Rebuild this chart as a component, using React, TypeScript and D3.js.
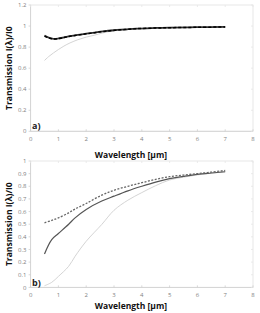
import React from "react";
import * as d3 from "d3";

// panel a) — wavelength in µm, transmission I(λ)/I0
const waveA = [0.5, 0.65, 0.82, 1.0, 1.2, 1.42, 1.7, 2.0, 2.3, 2.6, 3.0, 3.4, 3.8, 4.5, 5.0, 6.0, 7.0];
const solidA = [0.91, 0.89, 0.879, 0.882, 0.892, 0.904, 0.916, 0.927, 0.938, 0.949, 0.96, 0.968, 0.976, 0.982, 0.985, 0.989, 0.992];
const dashedA = [0.905, 0.887, 0.878, 0.881, 0.891, 0.903, 0.915, 0.926, 0.937, 0.948, 0.959, 0.967, 0.975, 0.981, 0.984, 0.988, 0.991];
const lightA = [0.673, 0.71, 0.744, 0.777, 0.81, 0.84, 0.87, 0.895, 0.913, 0.935, 0.955, 0.965, 0.974, 0.98, 0.983, 0.988, 0.99];

// panel b)
const waveB = [0.5, 0.76, 1.0, 1.37, 1.6, 2.0, 2.56, 3.0, 3.5, 4.0, 4.5, 5.0, 5.5, 6.0, 6.5, 7.0];
const dottedB = [0.511, 0.53, 0.55, 0.59, 0.62, 0.664, 0.73, 0.768, 0.8, 0.828, 0.855, 0.876, 0.889, 0.9, 0.912, 0.925];
const solidB = [0.265, 0.378, 0.426, 0.5, 0.55, 0.617, 0.683, 0.722, 0.764, 0.8, 0.833, 0.86, 0.878, 0.894, 0.905, 0.915];
const lightB = [0.013, 0.04, 0.087, 0.167, 0.246, 0.365, 0.498, 0.61, 0.69, 0.75, 0.805, 0.85, 0.872, 0.89, 0.903, 0.915];

const ticksA = [0, 0.2, 0.4, 0.6, 0.8, 1, 1.2];
const ticksB = [0, 0.1, 0.2, 0.3, 0.4, 0.5, 0.6, 0.7, 0.8, 0.9, 1];
const xTicks = [0, 1, 2, 3, 4, 5, 6, 7, 8];

const font = "'Open Sans', 'Liberation Sans', sans-serif";

type Series = { ys: number[]; color: string; width: number; dash?: string };

function Panel({ top, bottom, ymax, yTicks, xs, series, tag, titleGap }: {
  top: number; bottom: number; ymax: number; yTicks: number[]; xs: number[]; series: Series[]; tag: string; titleGap: number;
}) {
  const x = d3.scaleLinear().domain([0, 8]).range([30.6, 253]);
  const y = d3.scaleLinear().domain([0, ymax]).range([bottom, top]);
  const line = d3.line<number>().x((_, i) => x(xs[i])).y((d) => y(d)).curve(d3.curveCatmullRom);
  const mid = (top + bottom) / 2;
  return (
    <g>
      <rect x={x(0)} y={top} width={x(8) - x(0)} height={bottom - top} fill="none" stroke="#e0e0e0" strokeWidth={0.8} />
      <line x1={x(0)} x2={x(0)} y1={top} y2={bottom} stroke="#cfcfcf" strokeWidth={0.8} />
      <line x1={x(0)} x2={x(8)} y1={bottom} y2={bottom} stroke="#cfcfcf" strokeWidth={0.8} />
      {yTicks.map((t) => (
        <g key={t}>
          <line x1={x(0) - 2} x2={x(0)} y1={y(t)} y2={y(t)} stroke="#cfcfcf" strokeWidth={0.8} />
          <line x1={x(8) - 2} x2={x(8)} y1={y(t)} y2={y(t)} stroke="#e6e6e6" strokeWidth={0.8} />
          <text x={26.5} y={y(t)} dy="0.35em" textAnchor="end" fontSize={6} fill="#7f7f7f" fontFamily={font}>{t}</text>
        </g>
      ))}
      {xTicks.map((t) => (
        <g key={t}>
          <line x1={x(t)} x2={x(t)} y1={bottom} y2={bottom - 2} stroke="#cfcfcf" strokeWidth={0.8} />
          <line x1={x(t)} x2={x(t)} y1={top} y2={top + 2} stroke="#e6e6e6" strokeWidth={0.8} />
          <text x={x(t)} y={bottom + 7.5} dy="0.35em" textAnchor="middle" fontSize={6} fill="#7f7f7f" fontFamily={font}>{t}</text>
        </g>
      ))}
      {series.map((s, i) => (
        <path key={i} d={line(s.ys) ?? ""} fill="none" stroke={s.color} strokeWidth={s.width} strokeDasharray={s.dash} />
      ))}
      <text x={32} y={bottom - 5} dy="0.35em" fontSize={9} fontWeight="bold" fill="#222" fontFamily={font}>{tag}</text>
      <text x={131} y={bottom + titleGap} dy="0.35em" textAnchor="middle" fontSize={8.5} fontWeight="bold" fill="#111" fontFamily={font}>
        Wavelength [µm]
      </text>
      <text transform={`translate(8.7,${mid}) rotate(-90)`} dy="0.35em" textAnchor="middle" fontSize={8.5} fontWeight="bold" fill="#111" fontFamily={font}>
        Transmission I(λ)/I0
      </text>
    </g>
  );
}

export default function App() {
  return (
    <svg width={260} height={313} style={{ position: "absolute", left: 0, top: 0, background: "#fff" }}>
      <Panel
        top={5}
        bottom={131.3}
        ymax={1.2}
        yTicks={ticksA}
        xs={waveA}
        tag="a)"
        titleGap={23.8}
        series={[
          { ys: lightA, color: "#cfcfcf", width: 0.9 },
          { ys: solidA, color: "#333", width: 1.8 },
          { ys: dashedA, color: "#000", width: 1.5, dash: "3,2" },
        ]}
      />
      <Panel
        top={161}
        bottom={287.4}
        ymax={1}
        yTicks={ticksB}
        xs={waveB}
        tag="b)"
        titleGap={18.3}
        series={[
          { ys: lightB, color: "#cfcfcf", width: 0.9 },
          { ys: solidB, color: "#555", width: 1.2 },
          { ys: dottedB, color: "#666", width: 1.3, dash: "2,1.5" },
        ]}
      />
    </svg>
  );
}
